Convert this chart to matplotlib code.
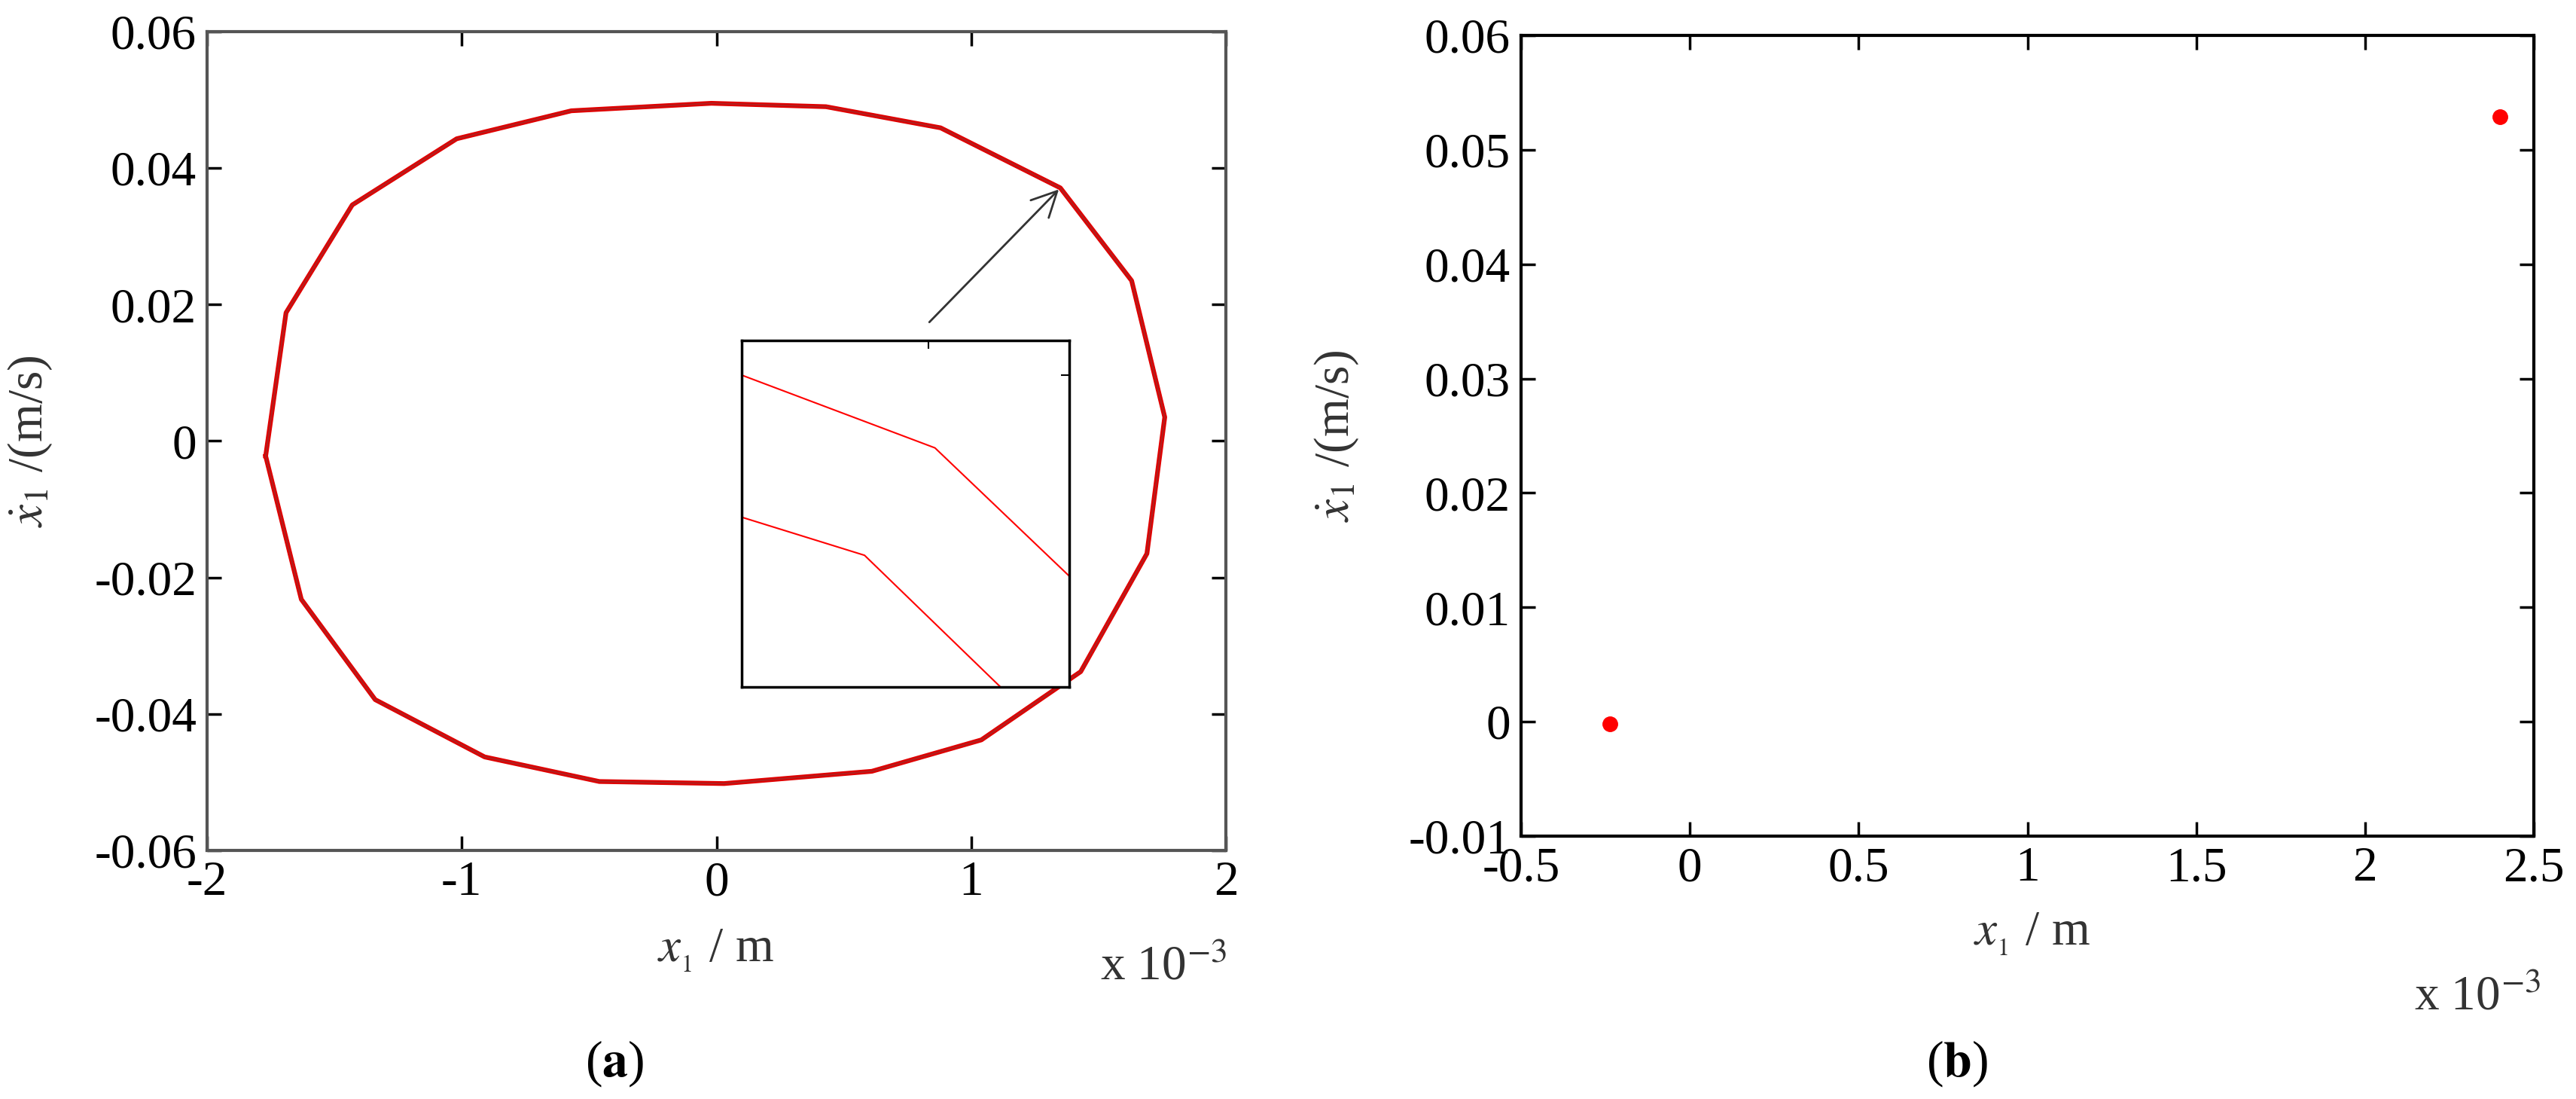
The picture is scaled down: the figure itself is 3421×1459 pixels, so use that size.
import numpy as np
import matplotlib.pyplot as plt

plt.rcParams['font.family'] = ['Liberation Serif', 'DejaVu Serif']
plt.rcParams['mathtext.fontset'] = 'stix'

# --- (a) phase trajectory, x in 1e-3 m, v in m/s ---
orbit_x = [-1.77, -1.69, -1.43, -1.02, -0.57, -0.02, 0.43, 0.88, 1.35, 1.63, 1.76,
           1.69, 1.43, 1.04, 0.61, 0.03, -0.46, -0.91, -1.34, -1.63, -1.77]
orbit_v = [-0.0022, 0.0188, 0.0346, 0.0443, 0.0484, 0.0495, 0.049, 0.0459, 0.0371, 0.0235, 0.0035,
           -0.0165, -0.0338, -0.0438, -0.0484, -0.0502, -0.0499, -0.0463, -0.0379, -0.0232, -0.0022]

# inset (zoomed view), in inset unit coordinates
inset1_x = [0.0, 0.59, 1.0]
inset1_y = [0.90, 0.69, 0.32]
inset2_x = [0.0, 0.375, 0.79]
inset2_y = [0.49, 0.38, 0.0]

# --- (b) Poincare points ---
pts_x = [-0.237, 2.40]
pts_v = [-0.0002, 0.0529]

W, H = 3421, 1459
fig = plt.figure(figsize=(W / 100, H / 100), dpi=100)
fs = 47


def box(l, r, t, b):
    return [l / W, 1 - b / H, (r - l) / W, (b - t) / H]


def style(ax, col):
    for s in ax.spines.values():
        s.set_color(col)
        s.set_linewidth(3)
    ax.tick_params(direction='in', length=14, width=2.5, top=True, right=True,
                   labelsize=fs, pad=10, colors='black')


ax1 = fig.add_axes(box(275, 1628, 42, 1129))
ax1.plot(orbit_x, orbit_v, color='#e00000', lw=4.5, solid_joinstyle='round')
ax1.plot(orbit_x, orbit_v, color='#b02020', lw=1.5)
ax1.set_xlim(-2, 2)
ax1.set_ylim(-0.06, 0.06)
ax1.set_xticks([-2, -1, 0, 1, 2])
ax1.set_xticklabels(['-2', '-1', '0', '1', '2'])
ax1.set_yticks(np.arange(-0.06, 0.061, 0.02))
ax1.set_yticklabels(['-0.06', '-0.04', '-0.02', '0', '0.02', '0.04', '0.06'])
style(ax1, '#555555')
ax1.set_ylabel(r'$\dot{x}_1$ /(m/s)', fontsize=fs, color='#333333')
ax1.yaxis.set_label_coords(-0.15, 0.5)
ax1.annotate('', xy=(1.35, 0.0371), xytext=(0.83, 0.0172),
             arrowprops=dict(arrowstyle='->', color='#333333', lw=2, mutation_scale=60))

ins = fig.add_axes(box(985, 1420, 452, 912))
ins.plot(inset1_x, inset1_y, color='red', lw=1.5)
ins.plot(inset2_x, inset2_y, color='red', lw=1.5)
ins.set_xlim(0, 1)
ins.set_ylim(0, 1)
ins.set_xticks([0.57])
ins.set_yticks([0.9])
ins.tick_params(direction='in', length=8, width=1.5, top=True, right=True, bottom=False,
                left=False, labelbottom=False, labelleft=False)
for s in ins.spines.values():
    s.set_linewidth(2.5)

fig.text(950 / W, 1 - 1262 / H, r'$x_{_1}$ / m', fontsize=fs, ha='center', va='center', color='#333333')
fig.text(1545 / W, 1 - 1285 / H, r'x 10$^{-3}$', fontsize=fs, ha='center', va='center', color='#333333')
fig.text(816 / W, 1 - 1412 / H, r'($\mathbf{a}$)', fontsize=fs + 2, ha='center', va='center')

ax2 = fig.add_axes(box(2020, 3365, 47, 1110))
ax2.plot(pts_x, pts_v, 'o', color='red', ms=14, ls='none')
ax2.set_xlim(-0.5, 2.5)
ax2.set_ylim(-0.01, 0.06)
ax2.set_xticks(np.arange(-0.5, 2.51, 0.5))
ax2.set_xticklabels(['-0.5', '0', '0.5', '1', '1.5', '2', '2.5'])
ax2.set_yticks(np.arange(-0.01, 0.061, 0.01))
ax2.set_yticklabels(['-0.01', '0', '0.01', '0.02', '0.03', '0.04', '0.05', '0.06'])
style(ax2, 'black')
ax2.set_ylabel(r'$\dot{x}_1$ /(m/s)', fontsize=fs, color='#333333')
ax2.yaxis.set_label_coords(-0.158, 0.5)
fig.text(2698 / W, 1 - 1240 / H, r'$x_{_1}$ / m', fontsize=fs, ha='center', va='center', color='#333333')
fig.text(3290 / W, 1 - 1325 / H, r'x 10$^{-3}$', fontsize=fs, ha='center', va='center', color='#333333')
fig.text(2599 / W, 1 - 1412 / H, r'($\mathbf{b}$)', fontsize=fs + 2, ha='center', va='center')

fig.savefig('out.png', dpi=100)
